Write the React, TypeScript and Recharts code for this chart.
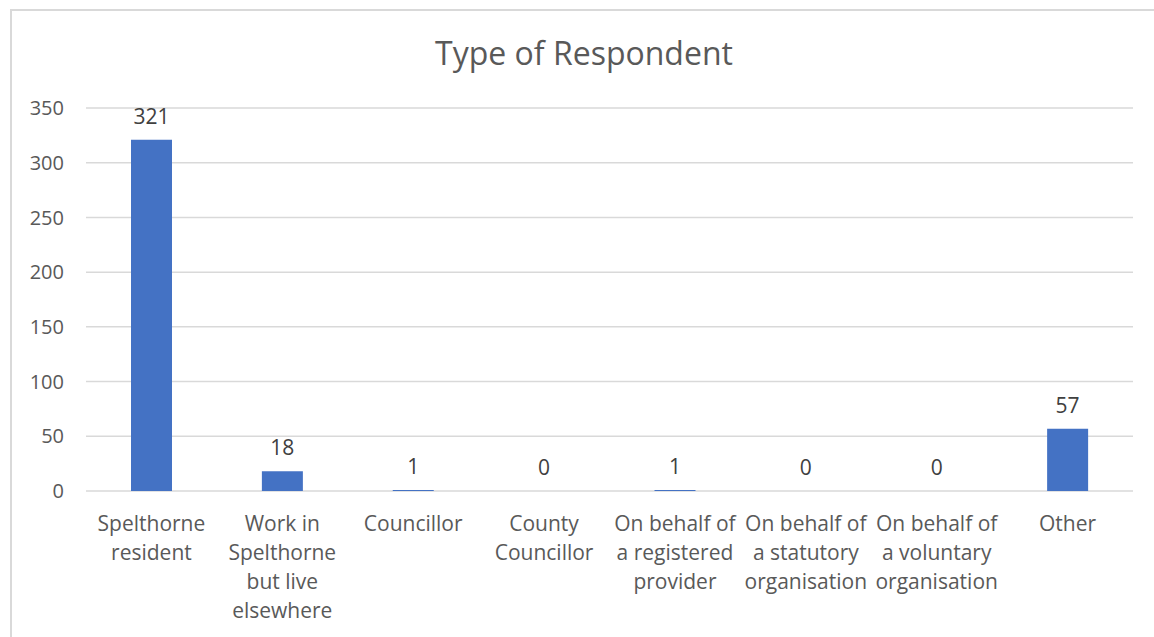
import { Bar, BarChart, CartesianGrid, Cell, LabelList, XAxis, YAxis } from "recharts";

const categories = [
  "Spelthorne resident",
  "Work in Spelthorne but live elsewhere",
  "Councillor",
  "County Councillor",
  "On behalf of a registered provider",
  "On behalf of a statutory organisation",
  "On behalf of a voluntary organisation",
  "Other",
];

// wrapped label lines, same order as categories
const categoryLines = [
  ["Spelthorne", "resident"],
  ["Work in", "Spelthorne", "but live", "elsewhere"],
  ["Councillor"],
  ["County", "Councillor"],
  ["On behalf of", "a registered", "provider"],
  ["On behalf of", "a statutory", "organisation"],
  ["On behalf of", "a voluntary", "organisation"],
  ["Other"],
];

const respondents = [321, 18, 1, 0, 1, 0, 0, 57];

const yTicks = [0, 50, 100, 150, 200, 250, 300, 350];

const FONT = "'Open Sans', sans-serif";
const GRID = "#d9d9d9";
const TEXT = "#595959";
const BAR = "#4472C4";

const rows = categories.map((name, i) => ({
  name,
  lines: categoryLines[i],
  count: respondents[i],
}));

type TickProps = {
  x?: number;
  y?: number;
  index?: number;
};

function CategoryTick({ x = 0, y = 0, index = 0 }: TickProps) {
  const lines = categoryLines[index] ?? [];
  return (
    <text
      x={x}
      y={y}
      textAnchor="middle"
      fill={TEXT}
      fontSize={21}
      fontFamily={FONT}
    >
      {lines.map((line, i) => (
        <tspan key={i} x={x} dy={i === 0 ? 7 : 29}>
          {line}
        </tspan>
      ))}
    </text>
  );
}

type ValueLabelProps = {
  x?: number | string;
  y?: number | string;
  width?: number | string;
  height?: number | string;
  value?: number | string;
};

// label sits above the bar's top edge, zeros included
function ValueLabel({ x = 0, y = 0, width = 0, height = 0, value }: ValueLabelProps) {
  const top = Math.min(Number(y), Number(y) + Number(height));
  const shown = Number(value) === 0 ? Number(y) + Number(height) : top;
  return (
    <text
      x={Number(x) + Number(width) / 2}
      y={shown - 16}
      textAnchor="middle"
      fill="#404040"
      fontSize={21}
      fontFamily={FONT}
    >
      {String(value)}
    </text>
  );
}

export default function App() {
  return (
    <div
      style={{
        position: "absolute",
        left: 10,
        top: 9,
        width: 1146,
        height: 630,
        borderTop: `2px solid ${GRID}`,
        borderLeft: `2px solid ${GRID}`,
        background: "#fff",
      }}
    >
      <div
        style={{
          position: "absolute",
          left: 0,
          width: 1144,
          top: 20,
          textAlign: "center",
          fontFamily: FONT,
          fontSize: 32,
          color: TEXT,
        }}
      >
        Type of Respondent
      </div>
      <BarChart
        width={1144}
        height={626}
        data={rows}
        margin={{ top: 97, right: 23, left: 14, bottom: 116 }}
        barCategoryGap={0}
      >
        <CartesianGrid stroke={GRID} strokeWidth={1.5} vertical={false} />
        <XAxis
          dataKey="name"
          axisLine={false}
          tickLine={false}
          tickSize={0}
          tickMargin={33}
          interval={0}
          tick={<CategoryTick />}
        />
        <YAxis
          width={60}
          domain={[0, 350]}
          ticks={yTicks}
          axisLine={false}
          tickLine={false}
          tickSize={0}
          tickMargin={22}
          tick={{ fill: TEXT, fontSize: 20, fontFamily: FONT }}
        />
        <Bar
          dataKey="count"
          fill={BAR}
          barSize={41}
          minPointSize={1}
          isAnimationActive={false}
        >
          {rows.map((r) => (
            <Cell key={r.name} fill={r.count === 0 ? "transparent" : BAR} />
          ))}
          <LabelList dataKey="count" content={<ValueLabel />} />
        </Bar>
      </BarChart>
    </div>
  );
}
